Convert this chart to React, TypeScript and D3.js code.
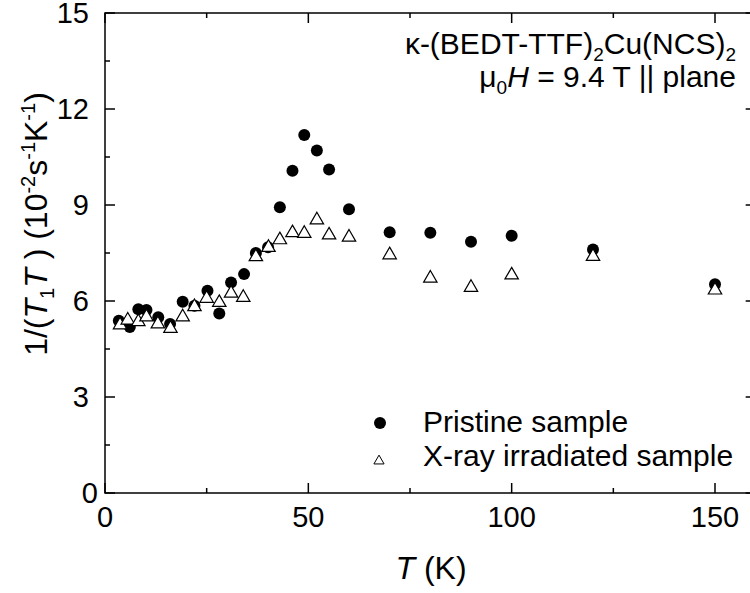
import React from "react";
import * as d3 from "d3";

const pristineT = [3.4, 6.1, 8.2, 10.2, 13.1, 16, 19.1, 22, 25.2, 28.1, 31, 34.2, 37.1, 40.1, 43, 46.1, 49, 52.1, 55.1, 60, 70, 80, 90, 100, 120, 150];
const pristineV = [5.38, 5.19, 5.74, 5.72, 5.49, 5.28, 5.98, 5.85, 6.32, 5.61, 6.58, 6.84, 7.5, 7.68, 8.93, 10.07, 11.19, 10.7, 10.11, 8.87, 8.15, 8.13, 7.85, 8.04, 7.61, 6.52];
const xrayT = [3.7, 5.6, 8.2, 10.2, 13, 16.1, 19.1, 22, 25, 28.1, 31, 34, 37.1, 40.2, 43, 46.1, 49, 52.1, 55.1, 60, 70, 80, 90, 100, 120, 150];
const xrayV = [5.25, 5.4, 5.35, 5.5, 5.28, 5.14, 5.5, 5.82, 6.08, 5.95, 6.24, 6.11, 7.38, 7.67, 7.91, 8.13, 8.11, 8.53, 8.06, 7.99, 7.44, 6.71, 6.42, 6.81, 7.39, 6.34];
const xTicks = [0, 50, 100, 150];
const yTicks = [0, 3, 6, 9, 12, 15];
const legendLabels = ["Pristine sample", "X-ray irradiated sample"];

const W = 750, H = 593;
const L = 105, T = 13, B = 493;
const FONT = "Liberation Sans, Arial, sans-serif";

export default function App() {
  const x = d3.scaleLinear().domain([0, 160]).range([L, L + 160 * (610 / 150)]);
  const y = d3.scaleLinear().domain([0, 15]).range([B, T]);
  const R = x(160);
  const xMinor = d3.range(0, 161, 25);
  const yMinor = d3.range(0, 15.01, 1.5);
  const tri = d3.symbol(d3.symbolTriangle, 78)()!;
  const triSmall = d3.symbol(d3.symbolTriangle, 45)()!;
  return (
    <svg width={W} height={H} style={{ position: "absolute", left: 0, top: 0, background: "#fff" }} fontFamily={FONT}>
      <rect x={0} y={0} width={W} height={H} fill="#fff" />
      {/* ticks */}
      <g stroke="#000" strokeWidth={1.5}>
        {xMinor.map((v) => {
          const major = v % 50 === 0;
          const len = major ? 10 : 5;
          return (
            <g key={"xt" + v}>
              <line x1={x(v)} x2={x(v)} y1={B} y2={B - len} />
              <line x1={x(v)} x2={x(v)} y1={T} y2={T + len} />
            </g>
          );
        })}
        {yMinor.map((v) => {
          const major = Math.abs(v % 3) < 1e-6;
          const len = major ? 10 : 5;
          return (
            <g key={"yt" + v}>
              <line x1={L} x2={L + len} y1={y(v)} y2={y(v)} />
              <line x1={R} x2={R - len} y1={y(v)} y2={y(v)} />
            </g>
          );
        })}
        <rect x={L} y={T} width={R - L} height={B - T} fill="none" />
      </g>
      {/* tick labels */}
      <g fontSize={29} fill="#000">
        {xTicks.map((v) => (
          <text key={"xl" + v} x={x(v)} y={527} textAnchor="middle">{v}</text>
        ))}
        {yTicks.map((v) => (
          <text key={"yl" + v} x={v === 0 ? 98 : 89} y={y(v) + 10} textAnchor="end">{v}</text>
        ))}
      </g>
      {/* axis titles */}
      <text x={431} y={579} fontSize={32} textAnchor="middle">
        <tspan fontStyle="italic">T</tspan> (K)
      </text>
      <text transform={`translate(47,224) rotate(-90)`} fontSize={32} textAnchor="middle">
        1/(<tspan fontStyle="italic">T</tspan><tspan fontSize={20} dy={7}>1</tspan><tspan dy={-7} fontStyle="italic">T</tspan> ) (10<tspan fontSize={20} dy={-12}>-2</tspan><tspan dy={12}>s</tspan><tspan fontSize={20} dy={-12}>-1</tspan><tspan dy={12}>K</tspan><tspan fontSize={20} dy={-12}>-1</tspan><tspan dy={12}>)</tspan>
      </text>
      {/* annotation */}
      <text x={736} y={54} fontSize={30} textAnchor="end">
        κ-(BEDT-TTF)<tspan fontSize={19} dy={7}>2</tspan><tspan dy={-7}>Cu(NCS)</tspan><tspan fontSize={19} dy={7}>2</tspan>
      </text>
      <text x={736} y={87} fontSize={30} textAnchor="end">
        μ<tspan fontSize={19} dy={7}>0</tspan><tspan dy={-7} fontStyle="italic">H</tspan> = 9.4 T || plane
      </text>
      {/* data */}
      <g>
        {pristineT.map((t, i) => (
          <circle key={"p" + i} cx={x(t)} cy={y(pristineV[i])} r={6} fill="#000" />
        ))}
        {xrayT.map((t, i) => (
          <path key={"x" + i} d={tri} transform={`translate(${x(t)},${y(xrayV[i])})`} fill="#fff" stroke="#000" strokeWidth={1.2} />
        ))}
      </g>
      {/* legend */}
      <circle cx={380} cy={423} r={6} fill="#000" />
      <path d={triSmall} transform="translate(379,461)" fill="#fff" stroke="#000" strokeWidth={1} />
      <text x={423} y={432} fontSize={30}>{legendLabels[0]}</text>
      <text x={423} y={466} fontSize={30}>{legendLabels[1]}</text>
    </svg>
  );
}
